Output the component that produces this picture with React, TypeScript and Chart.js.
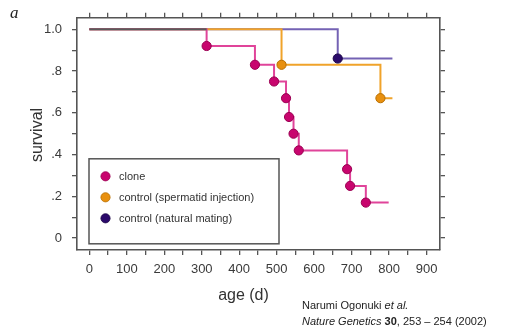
import React, { useEffect, useRef } from "react";
import { Chart, registerables } from "chart.js";

Chart.register(...registerables);

// ---- data ----
const cloneAges = [313, 442, 493, 525, 533, 545, 559, 688, 696, 738];
const cloneSurvival = [0.92, 0.83, 0.75, 0.67, 0.58, 0.5, 0.42, 0.33, 0.25, 0.17];
const cloneLastAge = 799;

const spermatidAges = [513, 777];
const spermatidSurvival = [0.83, 0.67];
const spermatidLastAge = 809;

const naturalAges = [663];
const naturalSurvival = [0.86];
const naturalLastAge = 809;

const seriesLabels = ["clone", "control (spermatid injection)", "control (natural mating)"];

const xTickValues = [0, 50, 100, 150, 200, 250, 300, 350, 400, 450, 500, 550, 600, 650, 700, 750, 800, 850, 900];
const xLabelValues = [0, 100, 200, 300, 400, 500, 600, 700, 800, 900];
const xLabels = ["0", "100", "200", "300", "400", "500", "600", "700", "800", "900"];

const yTickValues = [0, 0.1, 0.2, 0.3, 0.4, 0.5, 0.6, 0.7, 0.8, 0.9, 1.0];
const yLabelValues = [0, 0.2, 0.4, 0.6, 0.8, 1.0];
const yLabels = ["0", ".2", ".4", ".6", ".8", "1.0"];

// ---- styling ----
const FONT = '"Liberation Sans", Arial, Helvetica, sans-serif';
const markerFill = ["#c8056e", "#e8900f", "#2b0a6b"];
const markerEdge = ["#9a0052", "#b86e00", "#1a0545"];
const lineColors = ["#e0449a", "#f0a32a", "#7462b4"];
const overlapColor = "#5a5a5a";
const axisColor = "#555555";

function curve(ages: number[], surv: number[], last: number) {
  const pts = [{ x: 0, y: 1 }];
  ages.forEach((a, i) => pts.push({ x: a, y: surv[i] }));
  pts.push({ x: last, y: surv[surv.length - 1] });
  return pts;
}
function markers(ages: number[], surv: number[]) {
  return ages.map((a, i) => ({ x: a, y: surv[i] }));
}
function labelFor(v: number, values: number[], labels: string[]) {
  const i = values.findIndex((u) => Math.abs(u - v) < 1e-6);
  return i >= 0 ? labels[i] : "";
}

const insetLegend = {
  id: "insetLegend",
  afterDatasetsDraw(chart: any) {
    const { ctx, chartArea } = chart;
    const left = chartArea.left + 12;
    const top = chartArea.top + 141;
    const w = 190;
    const h = 85;
    ctx.save();
    ctx.fillStyle = "#ffffff";
    ctx.fillRect(left, top, w, h);
    ctx.strokeStyle = axisColor;
    ctx.lineWidth = 1.5;
    ctx.strokeRect(left, top, w, h);
    ctx.font = `11px ${FONT}`;
    ctx.textBaseline = "middle";
    ctx.textAlign = "left";
    seriesLabels.forEach((label, i) => {
      const cy = top + 17.5 + i * 21;
      ctx.beginPath();
      ctx.arc(left + 16.5, cy, 4.6, 0, Math.PI * 2);
      ctx.fillStyle = markerFill[i];
      ctx.fill();
      ctx.lineWidth = 0.8;
      ctx.strokeStyle = markerEdge[i];
      ctx.stroke();
      ctx.fillStyle = "#333333";
      ctx.fillText(label, left + 30, cy + 0.5);
    });
    ctx.restore();
  },
};

export default function App() {
  const ref = useRef<HTMLCanvasElement | null>(null);

  useEffect(() => {
    if (!ref.current) return;
    const lineBase = {
      showLine: true,
      stepped: "before" as const,
      pointRadius: 0,
      borderWidth: 2,
      fill: false,
    };
    const markerBase = {
      showLine: false,
      pointRadius: 4.6,
      pointBorderWidth: 1,
      order: 0,
    };
    const gridBase = {
      drawOnChartArea: false,
      drawTicks: true,
      tickLength: 5,
      color: axisColor,
      lineWidth: 1.3,
    };
    const borderBase = { display: true, color: axisColor, width: 1.6 };
    const xMin = -33;
    const xMax = 936;
    const yMin = -0.057;
    const yMax = 1.055;

    const chart = new Chart(ref.current, {
      type: "scatter",
      data: {
        datasets: [
          { ...markerBase, label: seriesLabels[0], data: markers(cloneAges, cloneSurvival), backgroundColor: markerFill[0], borderColor: markerEdge[0] },
          { ...markerBase, label: seriesLabels[1], data: markers(spermatidAges, spermatidSurvival), backgroundColor: markerFill[1], borderColor: markerEdge[1] },
          { ...markerBase, label: seriesLabels[2], data: markers(naturalAges, naturalSurvival), backgroundColor: markerFill[2], borderColor: markerEdge[2] },
          { ...lineBase, order: 1, label: "all", data: [{ x: 0, y: 1 }, { x: cloneAges[0], y: 1 }], borderColor: overlapColor },
          { ...lineBase, order: 2, label: "clone line", data: curve(cloneAges, cloneSurvival, cloneLastAge), borderColor: lineColors[0] },
          { ...lineBase, order: 3, label: "spermatid line", data: curve(spermatidAges, spermatidSurvival, spermatidLastAge), borderColor: lineColors[1] },
          { ...lineBase, order: 4, label: "natural line", data: curve(naturalAges, naturalSurvival, naturalLastAge), borderColor: lineColors[2] },
        ] as any,
      },
      options: {
        animation: false,
        responsive: false,
        events: [],
        layout: { padding: 0 },
        plugins: { legend: { display: false }, tooltip: { enabled: false }, title: { display: false } },
        scales: {
          x: {
            type: "linear",
            position: "bottom",
            min: xMin,
            max: xMax,
            afterBuildTicks: (s: any) => { s.ticks = xTickValues.map((v) => ({ value: v })); },
            afterFit: (s: any) => { s.height = 82; },
            ticks: {
              autoSkip: false,
              maxRotation: 0,
              padding: 7,
              color: "#3a3a3a",
              font: { family: FONT, size: 13 },
              callback: (v: any) => labelFor(Number(v), xLabelValues, xLabels),
            },
            grid: gridBase,
            border: borderBase,
          },
          x2: {
            type: "linear",
            position: "top",
            min: xMin,
            max: xMax,
            afterBuildTicks: (s: any) => { s.ticks = xTickValues.map((v) => ({ value: v })); },
            afterFit: (s: any) => { s.height = 12; },
            ticks: { display: false },
            grid: gridBase,
            border: borderBase,
          },
          y: {
            type: "linear",
            position: "left",
            min: yMin,
            max: yMax,
            afterBuildTicks: (s: any) => { s.ticks = yTickValues.map((v) => ({ value: v })); },
            afterFit: (s: any) => { s.width = 77; },
            ticks: {
              autoSkip: false,
              padding: 10,
              color: "#3a3a3a",
              font: { family: FONT, size: 13 },
              callback: (v: any) => labelFor(Number(v), yLabelValues, yLabels),
            },
            grid: gridBase,
            border: borderBase,
          },
          y2: {
            type: "linear",
            position: "right",
            min: yMin,
            max: yMax,
            afterBuildTicks: (s: any) => { s.ticks = yTickValues.map((v) => ({ value: v })); },
            afterFit: (s: any) => { s.width = 70; },
            ticks: { display: false },
            grid: gridBase,
            border: borderBase,
          },
        },
      } as any,
      plugins: [insetLegend],
    });
    return () => chart.destroy();
  }, []);

  const abs = (extra: React.CSSProperties): React.CSSProperties => ({
    position: "absolute",
    whiteSpace: "nowrap",
    fontFamily: FONT,
    color: "#333333",
    lineHeight: 1,
    ...extra,
  });

  return (
    <div style={{ position: "absolute", left: 0, top: 0, width: 510, height: 332, background: "#ffffff", overflow: "hidden" }}>
      <canvas ref={ref} width={510} height={332} style={{ display: "block", width: 510, height: 332 }} />
      <span style={abs({ left: 10, top: 4, fontFamily: '"Liberation Serif", "DejaVu Serif", serif', fontStyle: "italic", fontSize: 17, color: "#222" })}>a</span>
      <span style={abs({ left: 37, top: 135, fontSize: 16, transform: "translate(-50%, -50%) rotate(-90deg)" })}>survival</span>
      <span style={abs({ left: 243.5, top: 295, fontSize: 16, transform: "translate(-50%, -50%)" })}>age (d)</span>
      <span style={abs({ left: 302, top: 300, fontSize: 11, color: "#222" })}>
        Narumi Ogonuki <i>et al.</i>
      </span>
      <span style={abs({ left: 302, top: 316, fontSize: 11, color: "#222" })}>
        <i>Nature Genetics</i> <b>30</b>, 253 – 254 (2002)
      </span>
    </div>
  );
}
